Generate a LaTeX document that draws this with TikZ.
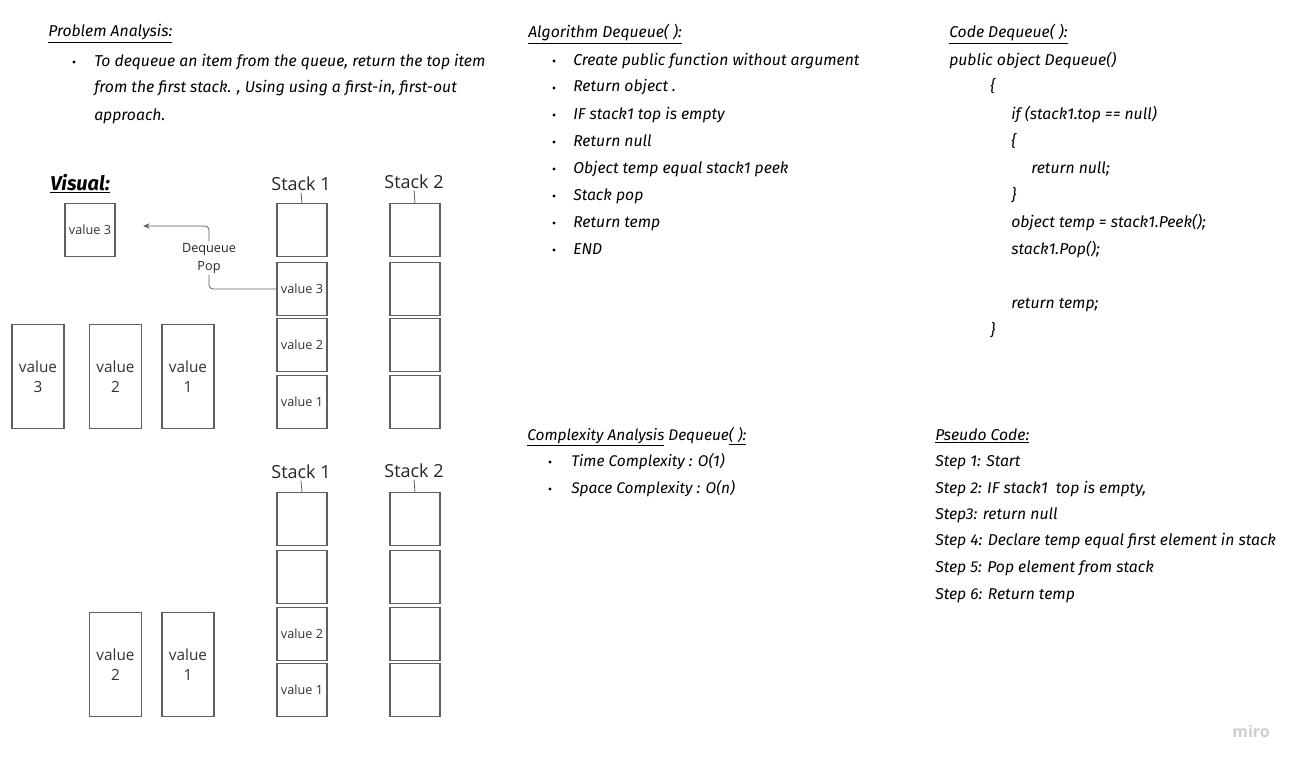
\documentclass[tikz,border=0pt]{standalone}
\usepackage{fontspec}
\setmainfont{Open Sans}
\newfontfamily\handfont{Fira Sans}
\usetikzlibrary{arrows.meta}
\definecolor{boxgray}{RGB}{95, 95, 95}
\definecolor{mirogray}{RGB}{205, 205, 212}

\tikzset{
  cell/.style={draw=boxgray, line width=1pt, minimum width=37.5pt, minimum height=39.5pt,
               inner sep=0pt, font=\fontsize{9.5}{11}\selectfont, text=black!80},
  tallcell/.style={cell, minimum width=39pt, minimum height=78pt, align=center,
               font=\fontsize{11.5}{15}\selectfont},
  stacklbl/.style={inner sep=1pt, font=\fontsize{13.5}{16}\selectfont, text=black!85},
  hand/.style={anchor=base west, inner sep=0pt, font=\handfont\itshape\fontsize{11.8}{14}\selectfont},
  smallhand/.style={hand, font=\handfont\itshape\fontsize{11.6}{14}\selectfont},
  conn/.style={draw=boxgray, line width=0.6pt, rounded corners=3pt},
}

\begin{document}
\begin{tikzpicture}[x=0.75pt, y=-0.75pt]
            \useasboundingbox[fill=white] (0,0) rectangle (1302,767);
            % Problem analysis
            \node[hand] (pa)  at (48, 37) {\underline{Problem Analysis:}};
            \fill (74, 62) circle (1.3pt);
            \node[hand] (pa1) at (94, 66)  {To dequeue an item from the queue, return the top item};
            \node[hand] (pa2) at (94, 93)  {from the first stack. , Using using a first-in, first-out};
            \node[hand] (pa3) at (94, 120) {approach.};
            % Visual, first state
            \node[hand, font=\handfont\itshape\bfseries\fontsize{15}{18}\selectfont] (vis) at (50, 190) {\underline{Visual:}};
            \node[cell] (popped) at (90, 230) {value 3};
            \node[stacklbl] (sa) at (301, 184) {Stack 1};
            \node[stacklbl] (sb) at (414, 182) {Stack 2};
            \node[cell] (sa1) at (302, 230) {};
            \node[cell] (sa2) at (302, 289) {value 3};
            \node[cell] (sa3) at (302, 345) {value 2};
            \node[cell] (sa4) at (302, 402) {value 1};
            \node[cell] (sb1) at (415, 230) {};
            \node[cell] (sb2) at (415, 289) {};
            \node[cell] (sb3) at (415, 345) {};
            \node[cell] (sb4) at (415, 402) {};
            \draw[boxgray, line width=0.6pt] (sa.south) -- (sa1.north);
            \draw[boxgray, line width=0.6pt] (sb.south) -- (sb1.north);
            \node[tallcell] (in3) at (38, 376.5)    {value\\3};
            \node[tallcell] (in2) at (115.5, 376.5) {value\\2};
            \node[tallcell] (in1) at (188, 376.5)   {value\\1};
            % Dequeue arrow
            \node[align=center, fill=white, inner sep=1pt, font=\fontsize{9.5}{13.5}\selectfont, text=black!85] (dq) at (209, 258) {Dequeue\\Pop};
            \coordinate (arrowend) at (143, 226);
            \draw[conn] (sa2.west) -| (dq.south);
            \draw[conn, -{Stealth[length=5pt, width=4pt]}] (dq.north) |- (arrowend);
            % Visual, second state
            \node[stacklbl] (sc) at (301, 472) {Stack 1};
            \node[stacklbl] (sd) at (414, 471) {Stack 2};
            \node[cell] (sc1) at (302, 519) {};
            \node[cell] (sc2) at (302, 577) {};
            \node[cell] (sc3) at (302, 634) {value 2};
            \node[cell] (sc4) at (302, 690) {value 1};
            \node[cell] (sd1) at (415, 519) {};
            \node[cell] (sd2) at (415, 577) {};
            \node[cell] (sd3) at (415, 634) {};
            \node[cell] (sd4) at (415, 690) {};
            \draw[boxgray, line width=0.6pt] (sc.south) -- (sc1.north);
            \draw[boxgray, line width=0.6pt] (sd.south) -- (sd1.north);
            \node[tallcell] (rest2) at (115.5, 664.5) {value\\2};
            \node[tallcell] (rest1) at (188, 664.5)   {value\\1};
            % Algorithm
            \node[hand] (alg) at (528, 38) {\underline{Algorithm Dequeue( ):}};
            \foreach \k in {0,...,7} \fill (554, 61+27*\k) circle (1.3pt);
            \node[hand] (al1) at (573, 65)  {Create public function without argument};
            \node[hand] (al2) at (573, 92)  {Return object .};
            \node[hand] (al3) at (573, 119) {IF stack1 top is empty};
            \node[hand] (al4) at (573, 146) {Return null};
            \node[hand] (al5) at (573, 173) {Object temp equal stack1 peek};
            \node[hand] (al6) at (573, 200) {Stack pop};
            \node[hand] (al7) at (573, 227) {Return temp};
            \node[hand] (al8) at (573, 254) {END};
            % Code
            \node[hand] (code)  at (949, 38)   {\underline{Code Dequeue( ):}};
            \node[hand] (cd1)   at (949, 65)   {public object Dequeue()};
            \node[hand] (cd2)   at (990, 92)   {\{};
            \node[hand] (cd3)   at (1011, 119) {if (stack1.top == null)};
            \node[hand] (cd4)   at (1011, 146) {\{};
            \node[hand] (cd5)   at (1031, 173) {return null;};
            \node[hand] (cd6)   at (1011, 200) {\}};
            \node[hand] (cd7)   at (1011, 227) {object temp = stack1.Peek();};
            \node[hand] (cd8)   at (1011, 254) {stack1.Pop();};
            \node[hand] (cd9)   at (1011, 308) {return temp;};
            \node[hand] (cd10)  at (990, 335)  {\}};
            % Complexity
            \node[smallhand] (cx)  at (527, 440) {\underline{Complexity Analysis} Dequeue\underline{( ):}};
            \fill (550, 462) circle (1.2pt);
            \fill (550, 489) circle (1.2pt);
            \node[smallhand] (cx1) at (571, 466) {Time Complexity : O(1)};
            \node[smallhand] (cx2) at (571, 493) {Space Complexity : O(n)};
            % Pseudo code
            \node[hand] (ps)  at (935, 440) {\underline{Pseudo Code:}};
            \node[hand] (ps1) at (935, 466) {Step 1: Start};
            \node[hand] (ps2) at (935, 493) {Step 2: IF stack1\ \ top is empty,};
            \node[hand] (ps3) at (935, 519) {Step3: return null};
            \node[hand] (ps4) at (935, 545) {Step 4: Declare temp equal first element in stack};
            \node[hand] (ps5) at (935, 572) {Step 5: Pop element from stack};
            \node[hand] (ps6) at (935, 599) {Step 6: Return temp};
            % watermark
            \node[text=mirogray, font=\bfseries\fontsize{12}{14}\selectfont] (miro) at (1251, 731) {miro};
\end{tikzpicture}
\end{document}
